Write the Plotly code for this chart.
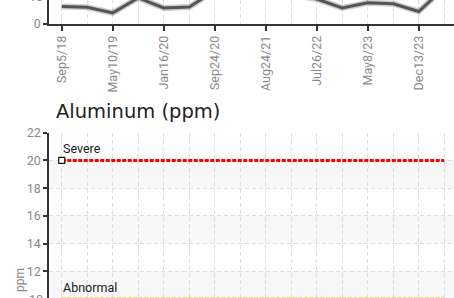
import plotly.graph_objects as go

# ---- data ----
tick_labels = ["Sep5/18", "May10/19", "Jan16/20", "Sep24/20",
               "Aug24/21", "Jul26/22", "May8/23", "Dec13/23"]
prev_values = [6.3, 6.0, 4.0, 9.4, 5.8, 6.1, 12.0, 11.0,
               10.0, 10.5, 9.0, 5.8, 7.6, 7.3, 4.5, 13.0]
al_y_ticks = [10, 12, 14, 16, 18, 20, 22]
severe_level = 20
abnormal_level = 10
threshold_names = ["Severe", "Abnormal"]

W, H = 454, 298
n = len(prev_values)
xs = list(range(n))
label_pos = xs[::2]

COND = "Roboto, sans-serif"
GRAY = "#8a8a8a"
GRID = "#dddddd"
AXIS = "#333333"

# plot geometry (pixels)
x_left = 49
px_per_cat = 25.5
top_axis_px = 24
px_per_unit_top = 2.78
al_top_px = 132.7
px_per_unit_al = 13.86

x_range = [-0.5, -0.5 + (W - x_left) / px_per_cat]
top_range = [0, top_axis_px / px_per_unit_top]
al_range = [22 - (H - al_top_px) / px_per_unit_al, 22]

fig = go.Figure()

# previous chart line (shadow + line)
fig.add_trace(go.Scatter(x=xs, y=prev_values, mode="lines",
                         line=dict(color="rgba(110,110,110,0.35)", width=6),
                         xaxis="x", yaxis="y", hoverinfo="skip", showlegend=False))
fig.add_trace(go.Scatter(x=xs, y=prev_values, mode="lines",
                         line=dict(color="#555555", width=3),
                         xaxis="x", yaxis="y", showlegend=False))

# threshold lines
fig.add_trace(go.Scatter(x=[xs[0], xs[-1]], y=[severe_level, severe_level], mode="lines",
                         line=dict(color="#ff0000", width=3, dash="4px,1.5px"),
                         xaxis="x2", yaxis="y2", showlegend=False))
fig.add_trace(go.Scatter(x=[xs[0], xs[-1]], y=[abnormal_level, abnormal_level], mode="lines",
                         line=dict(color="#f0b000", width=3, dash="4px,1.5px"),
                         xaxis="x2", yaxis="y2", showlegend=False))
for lvl, name in zip([severe_level, abnormal_level], threshold_names):
    fig.add_trace(go.Scatter(x=[xs[0]], y=[lvl], mode="markers",
                             marker=dict(symbol="square", size=6, color="white",
                                         line=dict(color="#111111", width=1.2)),
                             cliponaxis=False,
                             xaxis="x2", yaxis="y2", showlegend=False))

shapes = []
for lo in [18, 14, 10]:
    shapes.append(dict(type="rect", xref="x2 domain", yref="y2", x0=0, x1=1,
                       y0=lo, y1=lo + 2, fillcolor="#f7f7f7", line=dict(width=0),
                       layer="below"))

xax_common = dict(domain=[x_left / W, 1], range=x_range, zeroline=False, automargin=False,
                  showgrid=True, gridcolor=GRID, griddash="4px,3px", gridwidth=1,
                  tickmode="array", tickvals=label_pos,
                  minor=dict(tickmode="linear", tick0=0, dtick=1, showgrid=True,
                             gridcolor=GRID, griddash="4px,3px", gridwidth=1, ticks=""))

tickfont = dict(family=COND, size=12.5, color=GRAY)

def y2_frac(v):
    return (v - al_range[0]) / (al_range[1] - al_range[0])

threshold_annots = [
    dict(text=name, xref="x2", yref="y2 domain", x=xs[0], y=y2_frac(lvl),
         xanchor="left", yanchor="bottom",
         xshift=-0.5, yshift=2, showarrow=False,
         font=dict(family=COND, size=12.5, color="#1a1a1a"))
    for lvl, name in zip([severe_level, abnormal_level], threshold_names)
]

fig.update_layout(
    template="none",
    width=W, height=H, margin=dict(l=0, r=0, t=0, b=0, pad=0, autoexpand=False),
    paper_bgcolor="white", plot_bgcolor="rgba(0,0,0,0)",
    showlegend=False,
    xaxis=dict(anchor="y", ticktext=tick_labels, tickangle=-90,
               ticks="outside", ticklen=5, tickcolor=AXIS, tickwidth=1.5,
               showline=True, linecolor=AXIS, linewidth=1.5,
               tickfont=tickfont, **xax_common),
    yaxis=dict(domain=[1 - top_axis_px / H, 1], range=top_range, anchor="x", automargin=False,
               tickvals=[0, 10], ticks="outside", ticklen=4, tickcolor=AXIS, tickwidth=1.5,
               showline=True, linecolor=AXIS, linewidth=1.5, zeroline=False,
               showgrid=True, gridcolor=GRID, griddash="4px,3px",
               tickfont=tickfont),
    xaxis2=dict(anchor="y2", showticklabels=False, ticks="", showline=False,
                ticktext=tick_labels, **xax_common),
    yaxis2=dict(domain=[0, 1 - al_top_px / H], range=al_range, anchor="x2", automargin=False,
                tickvals=al_y_ticks, ticks="outside", ticklen=4, tickcolor=AXIS, tickwidth=1.5,
                showline=True, linecolor=AXIS, linewidth=1.5, zeroline=False,
                showgrid=True, gridcolor=GRID, griddash="4px,3px",
                tickfont=tickfont),
    shapes=shapes,
    annotations=threshold_annots + [
        dict(text="Aluminum (ppm)", xref="paper", yref="paper", x=54 / W, y=1 - 111.5 / H,
             xanchor="left", yanchor="middle", showarrow=False,
             font=dict(family="DejaVu Sans", size=19.5, color="#222222")),
        dict(text="ppm", xref="paper", yref="paper", x=20 / W, y=1 - 280 / H,
             xanchor="center", yanchor="middle", textangle=-90, showarrow=False,
             font=dict(family=COND, size=12, color=GRAY)),
        dict(text="10", xref="paper", yref="paper", x=45 / W, y=1 + 4 / H,
             xanchor="right", yanchor="middle", showarrow=False,
             font=tickfont),
        dict(text="10", xref="paper", yref="paper", x=45 / W, y=-1 / H,
             xanchor="right", yanchor="middle", showarrow=False,
             font=tickfont),
    ],
)

fig.write_html("out.html", config={"displayModeBar": False},
               post_script="document.body.style.margin='0';document.body.style.overflow='hidden';")
